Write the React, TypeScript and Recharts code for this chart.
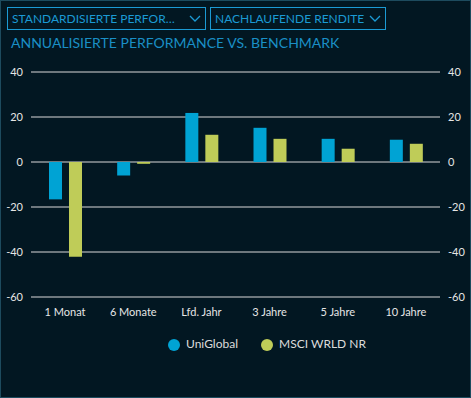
import { BarChart, Bar, XAxis, YAxis, CartesianGrid, Legend } from 'recharts';

const categories = ['1 Monat', '6 Monate', 'Lfd. Jahr', '3 Jahre', '5 Jahre', '10 Jahre'];
const uniGlobal = [-16.6, -6.0, 21.8, 15.2, 10.3, 9.9];
const msciWorld = [-42.1, -0.8, 12.1, 10.3, 5.9, 8.1];
const yTicks = [-60, -40, -20, 0, 20, 40];
const seriesOrder = ['UniGlobal', 'MSCI WRLD NR'];

const data = categories.map((name, i) => ({
  name,
  uniGlobal: uniGlobal[i],
  msci: msciWorld[i],
}));

const FONT = 'Lato, "Open Sans", sans-serif';
const BLUE_TEXT = '#1b9ad4';

function Chevron() {
  return (
    <svg width="12" height="8">
      <polyline points="1,1 6,6 11,1" fill="none" stroke={BLUE_TEXT} strokeWidth="1.3" />
    </svg>
  );
}

function Dropdown({ label, left, width }: { label: string; left: number; width: number }) {
  return (
    <div
      style={{
        position: 'absolute',
        left,
        top: 6,
        width,
        height: 23,
        boxSizing: 'border-box',
        border: `1px solid ${BLUE_TEXT}`,
        color: BLUE_TEXT,
        fontSize: 12,
        display: 'flex',
        alignItems: 'center',
        justifyContent: 'space-between',
        paddingLeft: 4,
        paddingRight: 4,
        whiteSpace: 'nowrap',
      }}
    >
      <span>{label}</span>
      <Chevron />
    </div>
  );
}

export default function App() {
  return (
    <div
      style={{
        position: 'absolute',
        left: 0,
        top: 0,
        width: 471,
        height: 398,
        boxSizing: 'border-box',
        background: '#021722',
        border: '1px solid #1d4b5e',
        fontFamily: FONT,
        overflow: 'hidden',
      }}
    >
      <Dropdown label="STANDARDISIERTE PERFOR…" left={6} width={199} />
      <Dropdown label="NACHLAUFENDE RENDITE" left={209} width={176} />
      <div
        style={{
          position: 'absolute',
          left: 10,
          top: 33,
          fontSize: 14,
          color: '#1a8fc6',
          whiteSpace: 'nowrap',
        }}
      >
        ANNUALISIERTE PERFORMANCE VS. BENCHMARK
      </div>
      <div style={{ position: 'absolute', left: -1, top: 59 }}>
        <BarChart
          width={471}
          height={338}
          data={data}
          margin={{ top: 12, right: 0, left: 0, bottom: 56 }}
          barSize={13}
          barGap={7}
        >
          <CartesianGrid vertical={false} stroke="#d9d9d9" yAxisId="left" />
          <XAxis
            dataKey="name"
            axisLine={false}
            tickLine={false}
            height={30}
            tick={{ fill: '#e6e6e6', fontSize: 11, fontFamily: FONT, dy: 3 }}
            interval={0}
          />
          <YAxis
            yAxisId="left"
            domain={[-60, 40]}
            ticks={yTicks}
            axisLine={false}
            tickLine={false}
            width={31}
            tick={{ fill: '#e6e6e6', fontSize: 11, fontFamily: FONT }}
          />
          <YAxis
            yAxisId="right"
            orientation="right"
            domain={[-60, 40]}
            ticks={yTicks}
            axisLine={false}
            tickLine={false}
            width={31}
            tick={{ fill: '#e6e6e6', fontSize: 11, fontFamily: FONT }}
          />
          <Legend
            verticalAlign="bottom"
            iconType="circle"
            iconSize={12}
            itemSorter={(item: any) => seriesOrder.indexOf(item.value)}
            wrapperStyle={{ top: 276, bottom: 'auto', left: 43, fontSize: 12, fontFamily: FONT }}
            formatter={(value) => <span style={{ color: '#dcdcdc', marginLeft: 2, marginRight: 13 }}>{value}</span>}
          />
          <Bar
            yAxisId="left"
            dataKey="uniGlobal"
            name="UniGlobal"
            fill="#00a3d4"
            isAnimationActive={false}
          />
          <Bar
            yAxisId="right"
            dataKey="msci"
            name="MSCI WRLD NR"
            fill="#bfcc58"
            isAnimationActive={false}
          />
        </BarChart>
      </div>
    </div>
  );
}
